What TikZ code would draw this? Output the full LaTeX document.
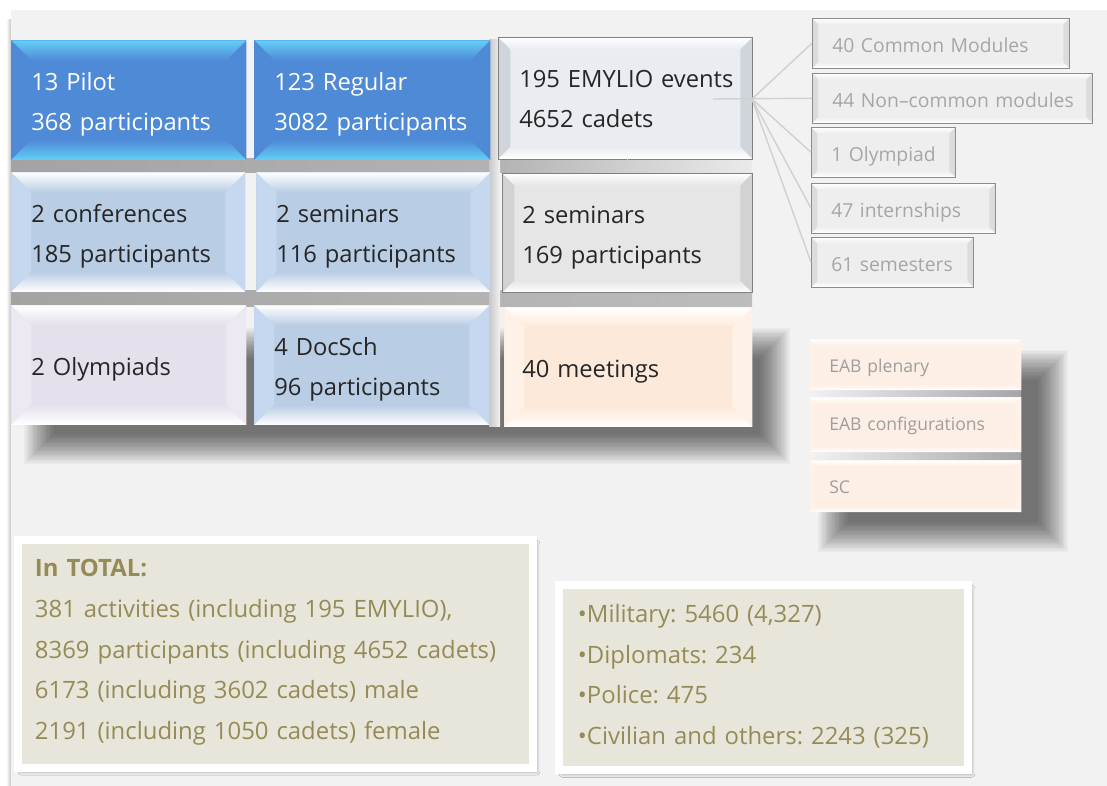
\documentclass[tikz,border=0pt]{standalone}
\usepackage{fontspec}
\setmainfont{Open Sans}
\usetikzlibrary{calc, shadows.blur}
\frenchspacing

\definecolor{panel}{HTML}{F2F2F2}
\definecolor{ink}{HTML}{262626}
\definecolor{blueMain}{HTML}{4F8AD6}
\definecolor{blueEdge}{HTML}{62CFF7}
\definecolor{paleMain}{HTML}{B9CDE5}
\definecolor{paleSide}{HTML}{C6D8EF}
\definecolor{emyMain}{HTML}{E9ECF0}
\definecolor{emySide}{HTML}{D0D4DB}
\definecolor{semMain}{HTML}{E6E6E6}
\definecolor{semSide}{HTML}{D2D2D2}
\definecolor{lavMain}{HTML}{E5E0EC}
\definecolor{lavSide}{HTML}{EDE9F2}
\definecolor{peachMain}{HTML}{FCE9DA}
\definecolor{peachSide}{HTML}{FDF1E8}
\definecolor{subMain}{HTML}{EEEEEE}
\definecolor{subSide}{HTML}{DCDCDC}
\definecolor{subText}{HTML}{A6A6A6}
\definecolor{eabMain}{HTML}{FDEFE5}
\definecolor{beige}{HTML}{E8E6DA}
\definecolor{olive}{HTML}{948B56}
\definecolor{linkGray}{HTML}{D0D0D0}

\tikzset{
  bevel/.style n args={4}{fill=#1, path picture={
    \path (path picture bounding box.north west) coordinate (bnw)
          (path picture bounding box.north east) coordinate (bne)
          (path picture bounding box.south east) coordinate (bse)
          (path picture bounding box.south west) coordinate (bsw);
    \fill[#3] (bnw) -- ($(bnw)+(#4,#4)$) -- ($(bsw)+(#4,-#4)$) -- (bsw) -- cycle;
    \fill[#3] (bne) -- ($(bne)+(-#4,#4)$) -- ($(bse)+(-#4,-#4)$) -- (bse) -- cycle;
    \shade[top color=#2, bottom color=#1] (bnw) -- (bne) -- ($(bne)+(-#4,#4)$) -- ($(bnw)+(#4,#4)$) -- cycle;
    \shade[top color=#1, bottom color=#2] (bsw) -- (bse) -- ($(bse)+(-#4,-#4)$) -- ($(bsw)+(#4,-#4)$) -- cycle;
  }},
  indent/.style={execute at begin node={\raggedright\leftskip=#1\relax}},
  cell/.style={anchor=north west, inner sep=0pt, text width=#1, text=ink,
    text height=28.5pt, text depth=39.5pt, indent=0.4cm,
    font=\fontsize{13.5}{22.7}\selectfont},
  single/.style={text height=39.7pt, text depth=28.3pt},
  sub/.style={anchor=north west, inner sep=0pt, text width=#1, text=subText,
    text height=19.5pt, text depth=8.85pt, indent=0.4cm,
    font=\fontsize{11}{13}\selectfont},
  framebox/.style={anchor=north west, fill=beige, draw=white, line width=0.16cm,
    inner sep=0pt, text width=#1, text=olive,
    font=\fontsize{13.6}{23.1}\selectfont,
    blur shadow={shadow xshift=2pt, shadow yshift=-2pt, shadow blur radius=2pt, shadow opacity=40}},
  link/.style={draw=linkGray, line width=0.8pt},
}

\begin{document}
\begin{tikzpicture}[x=0.02cm, y=-0.02cm]
  \useasboundingbox (0,0) rectangle (1107,786);
  \fill[white] (0,0) rectangle (1107,786);
  \shade[left color=white, right color=black!22] (6,20) rectangle (11,786);
  \fill[panel] (11,10) rectangle (1107,786);

  % soft shadows behind the grid and the boards
  \foreach \d in {0,...,23}
    \fill[black, opacity=0.028] (24+1.3*\d,328+1.3*\d) rectangle (790-1.3*\d,464-1.3*\d);
  \foreach \d in {0,...,23}
    \fill[black, opacity=0.028] (818+1.3*\d,350+1.3*\d) rectangle (1068-1.3*\d,552-1.3*\d);
  \shade[left color=black!36, right color=black!30] (11,159) rectangle (498,173);
  \shade[left color=black!30, right color=black!8] (498,159) rectangle (752,173);
  \shade[left color=black!36, right color=black!26] (11,291) rectangle (752,307);
  \shade[left color=black!22, right color=panel] (489,40) rectangle (500,427);
  \shade[left color=panel, right color=black!35] (809,389) rectangle (1021,398);
  \shade[left color=panel, right color=black!35] (809,451) rectangle (1021,461);

  % activities
  \node (pilot) [cell=4.70cm, bevel={blueMain}{blueEdge}{blueMain}{20}, text=white]
    at (11,40) {13 Pilot\\368 participants};
  \node (regular) [cell=4.72cm, bevel={blueMain}{blueEdge}{blueMain}{20}, text=white]
    at (254,40) {123 Regular\\3082 participants};
  \node (emylio) [cell=5.08cm, text depth=40.7pt, indent=0.42cm, draw=black!50,
    bevel={emyMain}{white}{emySide}{12}]
    at (498,37) {195 EMYLIO events\\4652 cadets};

  \node (conf) [cell=4.68cm, bevel={paleMain}{white}{paleSide}{20}]
    at (11,172) {2 conferences\\185 participants};
  \node (semA) [cell=4.68cm, bevel={paleMain}{white}{paleSide}{20}]
    at (256,172) {2 seminars\\116 participants};
  \node (semB) [cell=5.0cm, draw=black!50, bevel={semMain}{white}{semSide}{12}]
    at (502,173) {2 seminars\\169 participants};

  \node (olymp) [cell=4.70cm, single, bevel={lavMain}{white}{lavSide}{20}]
    at (11,305) {2 Olympiads};
  \node (docsch) [cell=4.70cm, bevel={paleMain}{white}{paleSide}{20}]
    at (254,305) {4 DocSch\\96 participants};
  \node (meet) [cell=4.96cm, single, indent=0.36cm, bevel={peachMain}{white}{peachSide}{20}]
    at (504,307) {40 meetings};

  % EMYLIO breakdown
  \node (common) [sub=5.14cm, draw=black!45, bevel={subMain}{white}{subSide}{6}]
    at (812,18) {40 Common Modules};
  \node (noncommon) [sub=5.6cm, draw=black!45, bevel={subMain}{white}{subSide}{6}]
    at (812,73) {44 Non--common modules};
  \node (olympiad) [sub=2.88cm, draw=black!45, bevel={subMain}{white}{subSide}{6}]
    at (811,127) {1 Olympiad};
  \node (intern) [sub=3.68cm, draw=black!45, bevel={subMain}{white}{subSide}{6}]
    at (811,183) {47 internships};
  \node (semest) [sub=3.24cm, draw=black!45, bevel={subMain}{white}{subSide}{6}]
    at (811,237) {61 semesters};

  % boards
  \node (plenary) [sub=4.24cm, text height=18.7pt, text depth=10.2pt, text=black!38,
    bevel={eabMain}{white}{peachSide}{6}, font=\fontsize{10}{12}\selectfont]
    at (809,339) {EAB plenary};
  \node (config) [sub=4.24cm, text height=18.7pt, text depth=12.5pt, text=black!38,
    bevel={eabMain}{white}{peachSide}{6}, font=\fontsize{10}{12}\selectfont]
    at (809,397) {EAB configurations};
  \node (sc) [sub=4.24cm, text height=18.7pt, text depth=10.8pt, text=black!38,
    bevel={eabMain}{white}{peachSide}{6}, font=\fontsize{10}{12}\selectfont]
    at (809,460) {SC};

  % totals
  \node (total) [framebox=10.3cm, indent=0.34cm, text height=21pt, text depth=108.8pt]
    at (14,536)
    {\textbf{In TOTAL:}\\381 activities (including 195 EMYLIO),\\8369 participants (including 4652 cadets)\\6173 (including 3602 cadets) male\\2191 (including 1050 cadets) female};
  \node (categories) [framebox=8.18cm, indent=0.38cm, text height=21.5pt, text depth=84pt]
    at (555,581)
    {•Military: 5460 (4,327)\\•Diplomats: 234\\•Police: 475\\•Civilian and others: 2243 (325)};

  \coordinate (hub) at (752,99);
  \coordinate (hubin) at (713,99);
  \draw[link] (hub) -- (common.west);
  \draw[link] (hubin) -- (noncommon.west);
  \draw[link] (hub) -- (olympiad.west);
  \draw[link] (hub) -- (intern.west);
  \draw[link] (hub) -- (semest.west);
  \draw[link] (semB.north) -- (semB.north |- emylio.south);
\end{tikzpicture}
\end{document}
